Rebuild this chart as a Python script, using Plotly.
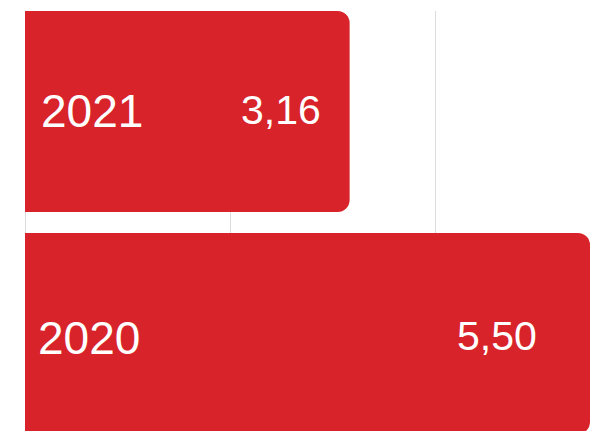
import plotly.graph_objects as go

years = ["2020", "2021"]
values = [5.50, 3.16]
value_labels = ["5,50", "3,16"]

BAR_COLOR = "#D8232A"
FONT = "Liberation Sans, Arial, sans-serif"

fig = go.Figure()
fig.add_trace(go.Bar(
    x=values, y=years, orientation="h",
    marker=dict(color=BAR_COLOR, line=dict(width=0)),
    width=0.905,
    hoverinfo="skip",
))

# label offsets (pixels): year label at bar start, value label near bar end
year_xshift = [11, 14]
year_yshift = [-4, 1]
value_xshift = [-51, -27]
value_yshift = [-2, 2]
for i, (yr, v, lab) in enumerate(zip(years, values, value_labels)):
    fig.add_annotation(x=0, y=i, text=yr, showarrow=False, xanchor="left",
                       xshift=year_xshift[i], yshift=year_yshift[i],
                       font=dict(family=FONT, size=46, color="white"))
    fig.add_annotation(x=v, y=i, text=lab, showarrow=False, xanchor="right",
                       xshift=value_xshift[i], yshift=value_yshift[i],
                       font=dict(family=FONT, size=41, color="white"))

fig.update_layout(
    width=595, height=431,
    margin=dict(l=25, r=5, t=11, b=0),
    paper_bgcolor="white", plot_bgcolor="white",
    showlegend=False,
    barcornerradius=12,
    xaxis=dict(range=[0, 5.5], showticklabels=False, ticks="",
               showgrid=True, gridcolor="#dcdcdc", gridwidth=1, dtick=2,
               zeroline=True, zerolinecolor="#dcdcdc", zerolinewidth=1,
               fixedrange=True),
    yaxis=dict(type="category", categoryorder="array", categoryarray=years,
               range=[-0.439, 1.4527], showticklabels=False, ticks="",
               showgrid=False, zeroline=False, fixedrange=True),
)

fig.write_html("out.html", config={"displayModeBar": False},
               post_script="document.body.style.margin='0';")
